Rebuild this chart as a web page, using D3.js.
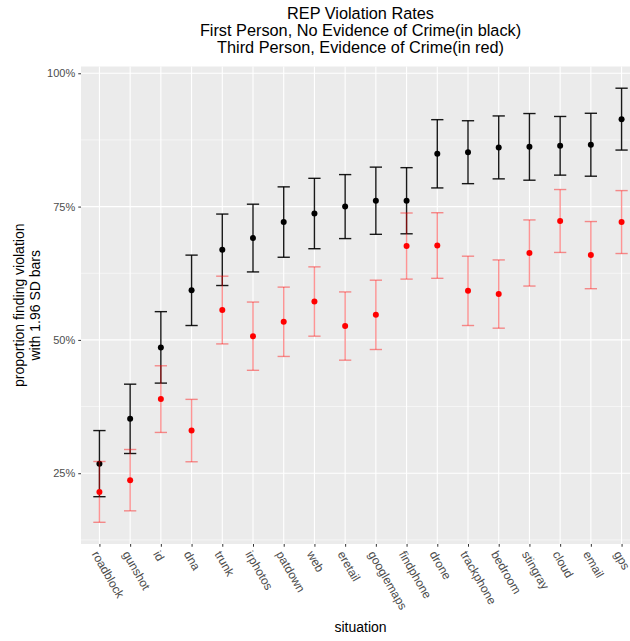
<!DOCTYPE html>
<html>
<head>
<meta charset="utf-8">
<script src="https://cdn.jsdelivr.net/npm/d3@7"></script>
<style>
  body { margin: 0; background: #fff; }
  svg { display: block; font-family: "Liberation Sans", Arial, Helvetica, sans-serif; }
</style>
</head>
<body>
<svg id="chart"></svg>
<script>
// --- data (percent) ---
const situations = ["roadblock", "gunshot", "id", "dna", "trunk", "irphotos", "patdown", "web", "eretail",
  "googlemaps", "findphone", "drone", "trackphone", "bedroom", "stingray", "cloud", "email", "gps"];

// first person, no evidence of crime (black)
const firstMean = [26.8, 35.2, 48.6, 59.3, 66.9, 69.1, 72.1, 73.7, 75.0, 76.1, 76.1, 84.9, 85.2, 86.1, 86.2, 86.4, 86.6, 91.4];
const firstBar  = [6.2, 6.5, 6.7, 6.6, 6.7, 6.35, 6.6, 6.6, 6.0, 6.3, 6.2, 6.4, 5.9, 5.9, 6.25, 5.5, 5.9, 5.8];

// third person, evidence of crime (red)
const thirdMean = [21.5, 23.7, 38.9, 33.0, 55.6, 50.7, 53.4, 57.2, 52.6, 54.7, 67.6, 67.7, 59.2, 58.6, 66.3, 72.3, 65.9, 72.1];
const thirdBar  = [5.7, 5.75, 6.25, 5.85, 6.35, 6.4, 6.5, 6.5, 6.4, 6.5, 6.2, 6.15, 6.5, 6.4, 6.2, 5.9, 6.3, 5.9];

const yTicks = [25, 50, 75, 100];
const yMinor = [12.5, 37.5, 62.5, 87.5];
const titleLines = ["REP Violation Rates", "First Person, No Evidence of Crime(in black)", "Third Person, Evidence of Crime(in red)"];
const yTitleLines = ["proportion finding violation", "with 1.96 SD bars"];

// --- sizes ---
const width = 630, height = 641;
// the panel runs past the right edge, as in the original export
const panel = { left: 81, right: 640, top: 66.5, bottom: 544 };

const svg = d3.select("#chart").attr("width", width).attr("height", height);

const first = situations.map((s, i) => ({ s, m: firstMean[i], lo: firstMean[i] - firstBar[i], hi: firstMean[i] + firstBar[i] }));
const third = situations.map((s, i) => ({ s, m: thirdMean[i], lo: thirdMean[i] - thirdBar[i], hi: thirdMean[i] + thirdBar[i] }));

// ggplot-like 5% expansion
const lo = d3.min(first.concat(third), d => d.lo);
const hi = d3.max(first.concat(third), d => d.hi);
const pad = (hi - lo) * 0.05;

const x = d3.scalePoint().domain(situations).range([panel.left, panel.right]).padding(0.6);
const y = d3.scaleLinear().domain([lo - pad, hi + pad]).range([panel.bottom, panel.top]);

// --- panel background + grid ---
svg.append("rect")
  .attr("x", panel.left).attr("y", panel.top)
  .attr("width", panel.right - panel.left).attr("height", panel.bottom - panel.top)
  .attr("fill", "#EBEBEB");

const grid = svg.append("g").attr("stroke", "#fff");
grid.selectAll(".minor").data(yMinor).join("line")
  .attr("x1", panel.left).attr("x2", panel.right)
  .attr("y1", d => y(d)).attr("y2", d => y(d))
  .attr("stroke-width", 0.55);
grid.selectAll(".major").data(yTicks).join("line")
  .attr("x1", panel.left).attr("x2", panel.right)
  .attr("y1", d => y(d)).attr("y2", d => y(d))
  .attr("stroke-width", 1.1);
grid.selectAll(".vx").data(situations).join("line")
  .attr("x1", d => x(d)).attr("x2", d => x(d))
  .attr("y1", panel.top).attr("y2", panel.bottom)
  .attr("stroke-width", 1.1);

// --- axes ---
const yAxis = svg.append("g")
  .attr("transform", `translate(${panel.left},0)`)
  .call(d3.axisLeft(y).tickValues(yTicks).tickSize(2.75).tickPadding(3).tickFormat(d => d + "%"));
yAxis.select(".domain").remove();
yAxis.selectAll("line").attr("stroke", "#333");
yAxis.selectAll("text").attr("fill", "#4D4D4D").attr("font-size", 11)
  .attr("font-family", "Liberation Sans, Arial, sans-serif");

const xAxis = svg.append("g")
  .attr("transform", `translate(0,${panel.bottom})`)
  .call(d3.axisBottom(x).tickSize(2.75).tickPadding(0));
xAxis.select(".domain").remove();
xAxis.selectAll("line").attr("stroke", "#333");
xAxis.selectAll("text")
  .attr("fill", "#4D4D4D").attr("font-size", 12)
  .attr("font-family", "Liberation Sans, Arial, sans-serif")
  .attr("text-anchor", "start")
  .attr("y", 0).attr("dy", 0)
  .attr("transform", "translate(-8.5,10) rotate(60)");

// --- error bars + points ---
function drawSeries(data, color, opacity) {
  const g = svg.append("g");
  const half = x.step() * 0.2;
  const bars = g.append("g").attr("stroke", color).attr("stroke-opacity", opacity).attr("stroke-width", 1.4);
  bars.selectAll(".v").data(data).join("line")
    .attr("x1", d => x(d.s)).attr("x2", d => x(d.s))
    .attr("y1", d => y(d.lo)).attr("y2", d => y(d.hi));
  bars.selectAll(".t").data(data).join("line")
    .attr("x1", d => x(d.s) - half).attr("x2", d => x(d.s) + half)
    .attr("y1", d => y(d.hi)).attr("y2", d => y(d.hi));
  bars.selectAll(".b").data(data).join("line")
    .attr("x1", d => x(d.s) - half).attr("x2", d => x(d.s) + half)
    .attr("y1", d => y(d.lo)).attr("y2", d => y(d.lo));
  // points stay solid
  g.append("g").selectAll("circle").data(data).join("circle")
    .attr("cx", d => x(d.s)).attr("cy", d => y(d.m))
    .attr("r", 3).attr("fill", color);
}

drawSeries(first, "#000", 0.9);
drawSeries(third, "#FF0000", 0.42);

// --- titles ---
const cx = (panel.left + panel.right) / 2;
svg.append("g").selectAll("text").data(titleLines).join("text")
  .attr("x", cx).attr("y", (d, i) => 18.5 + i * 17.2)
  .attr("text-anchor", "middle").attr("font-size", 16.3).attr("fill", "#000")
  .text(d => d);

svg.append("text")
  .attr("x", cx).attr("y", 632)
  .attr("text-anchor", "middle").attr("font-size", 14).attr("fill", "#000")
  .text("situation");

const yMid = (panel.top + panel.bottom) / 2;
svg.append("g").selectAll("text").data(yTitleLines).join("text")
  .attr("transform", (d, i) => `translate(${24 + i * 15.5},${yMid}) rotate(-90)`)
  .attr("text-anchor", "middle").attr("font-size", 14).attr("fill", "#000")
  .text(d => d);
</script>
</body>
</html>
